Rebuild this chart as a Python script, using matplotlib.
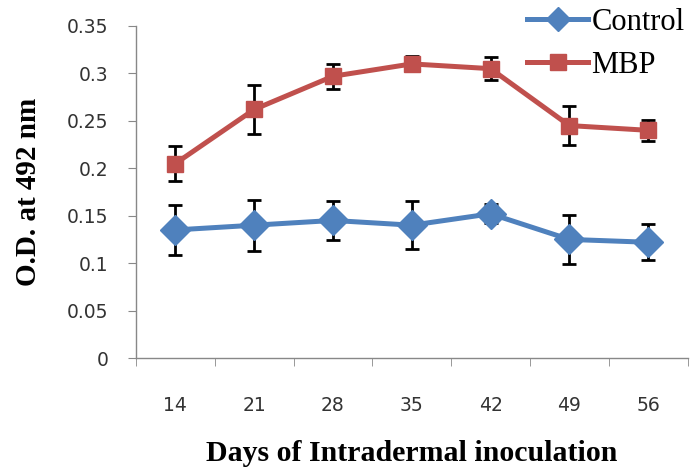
import matplotlib.pyplot as plt
import matplotlib.ticker as mticker
from matplotlib.lines import Line2D

# data
days = ['14', '21', '28', '35', '42', '49', '56']
control = [0.135, 0.140, 0.145, 0.140, 0.152, 0.125, 0.122]
control_err = [0.026, 0.027, 0.021, 0.025, 0.010, 0.026, 0.019]
mbp = [0.205, 0.262, 0.297, 0.310, 0.305, 0.245, 0.240]
mbp_err = [0.018, 0.026, 0.013, 0.008, 0.012, 0.021, 0.011]

blue = '#4F81BD'
red = '#C0504D'

fig = plt.figure(figsize=(6.99, 4.72), dpi=100)
ax = fig.add_axes([0.1946, 0.2415, 0.789, 0.7035])

x = list(range(len(days)))
ax.errorbar(x, control, yerr=control_err, color=blue, marker='D', markersize=15,
            linewidth=3.6, ecolor='black', elinewidth=2, capsize=5, capthick=2,
            zorder=3)
ax.errorbar(x, mbp, yerr=mbp_err, color=red, marker='s', markersize=12,
            linewidth=3.6, ecolor='black', elinewidth=2, capsize=5, capthick=2,
            zorder=3)

ax.set_xlim(-0.5, len(days) - 0.5)
ax.set_ylim(0, 0.35)
ax.set_yticks([i * 0.05 for i in range(8)])
ax.yaxis.set_major_formatter(mticker.FuncFormatter(lambda v, p: f'{v:.2f}'.rstrip('0').rstrip('.') if v else '0'))
ax.set_xticks(x)
ax.set_xticklabels(days)
ax.set_xticks([i - 0.5 for i in range(len(days) + 1)], minor=True)

for s in ['top', 'right']:
    ax.spines[s].set_visible(False)
for s in ['left', 'bottom']:
    ax.spines[s].set_color('#888888')
    ax.spines[s].set_linewidth(1)

ax.tick_params(axis='x', which='major', length=0, pad=27, labelsize=13.5)
ax.tick_params(axis='x', which='minor', length=6, color='#888888', direction='out')
ax.tick_params(axis='y', length=6, color='#888888', direction='out', labelsize=13.5, pad=14)
for lab in ax.get_xticklabels() + ax.get_yticklabels():
    lab.set_color('#333333')

ax.set_ylabel('O.D. at 492 nm', family='Liberation Serif', fontweight='bold',
              fontsize=21, labelpad=18)
ax.set_xlabel('Days of Intradermal inoculation', family='Liberation Serif',
              fontweight='bold', fontsize=21.5, labelpad=18)

handles = [Line2D([], [], color=blue, marker='D', markersize=12, linewidth=3.6),
           Line2D([], [], color=red, marker='s', markersize=12, linewidth=3.6)]
fig.legend(handles, ['Control', 'MBP'], loc='upper left', bbox_to_anchor=(0.75, 0.99),
           frameon=False, prop={'family': 'Liberation Serif', 'size': 22},
           handlelength=2.0, handletextpad=0.1, labelspacing=0.45, borderaxespad=0,
           borderpad=0.1)

fig.savefig('out.png', dpi=100)
